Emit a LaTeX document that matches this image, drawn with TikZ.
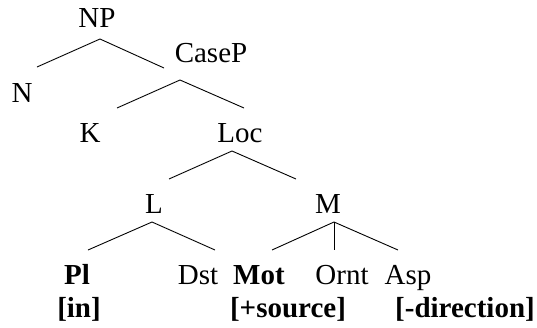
\documentclass[tikz,border=0pt]{standalone}
\usepackage{fontspec}
\setmainfont{Liberation Serif}
\begin{document}
\begin{tikzpicture}[x=1pt,y=-1pt,
  lbl/.style={anchor=base,inner sep=0pt,font=\fontsize{29}{32}\selectfont},
  blbl/.style={lbl,font=\fontsize{29}{32}\selectfont\bfseries},
  edge/.style={line width=0.9pt}]
\useasboundingbox (0,0) rectangle (537,327);
% labels of the tree
\node[lbl] (NP) at (97,27) {NP};
\node[lbl] (CaseP) at (211,62) {CaseP};
\node[lbl] (N) at (22,102) {N};
\node[lbl] (K) at (90,142) {K};
\node[lbl] (Loc) at (240,142) {Loc};
\node[lbl] (L) at (154,213) {L};
\node[lbl] (M) at (328,213) {M};
\node[blbl] (Pl) at (77,284) {Pl};
\node[lbl] (Dst) at (198,284) {Dst};
\node[blbl] (Mot) at (259,284) {Mot};
\node[lbl] (Ornt) at (342,284) {Ornt};
\node[lbl] (Asp) at (408,284) {Asp};
\node[blbl] (in) at (79,317) {[in]};
\node[blbl] (src) at (288,317) {[+source]};
\node[blbl] (dir) at (465,317) {[-direction]};
% branches
\draw[edge] ([shift={(15,-35)}]N.base) -- ([shift={(3,12)}]NP.base) -- ([shift={(-47,6)}]CaseP.base);
\draw[edge] ([shift={(27,-34)}]K.base) -- ([shift={(-31,18)}]CaseP.base) -- ([shift={(4,-34)}]Loc.base);
\draw[edge] ([shift={(15,-34)}]L.base) -- ([shift={(-8,9)}]Loc.base) -- ([shift={(-32,-34)}]M.base);
\draw[edge] ([shift={(11,-34)}]Pl.base) -- ([shift={(-2,9)}]L.base) -- ([shift={(17,-34)}]Dst.base);
\draw[edge] ([shift={(13,-34)}]Mot.base) -- ([shift={(6,9)}]M.base) -- ([shift={(-10,-34)}]Asp.base);
\draw[edge] ([shift={(6,9)}]M.base) -- ([shift={(-8,-34)}]Ornt.base);
\end{tikzpicture}
\end{document}
